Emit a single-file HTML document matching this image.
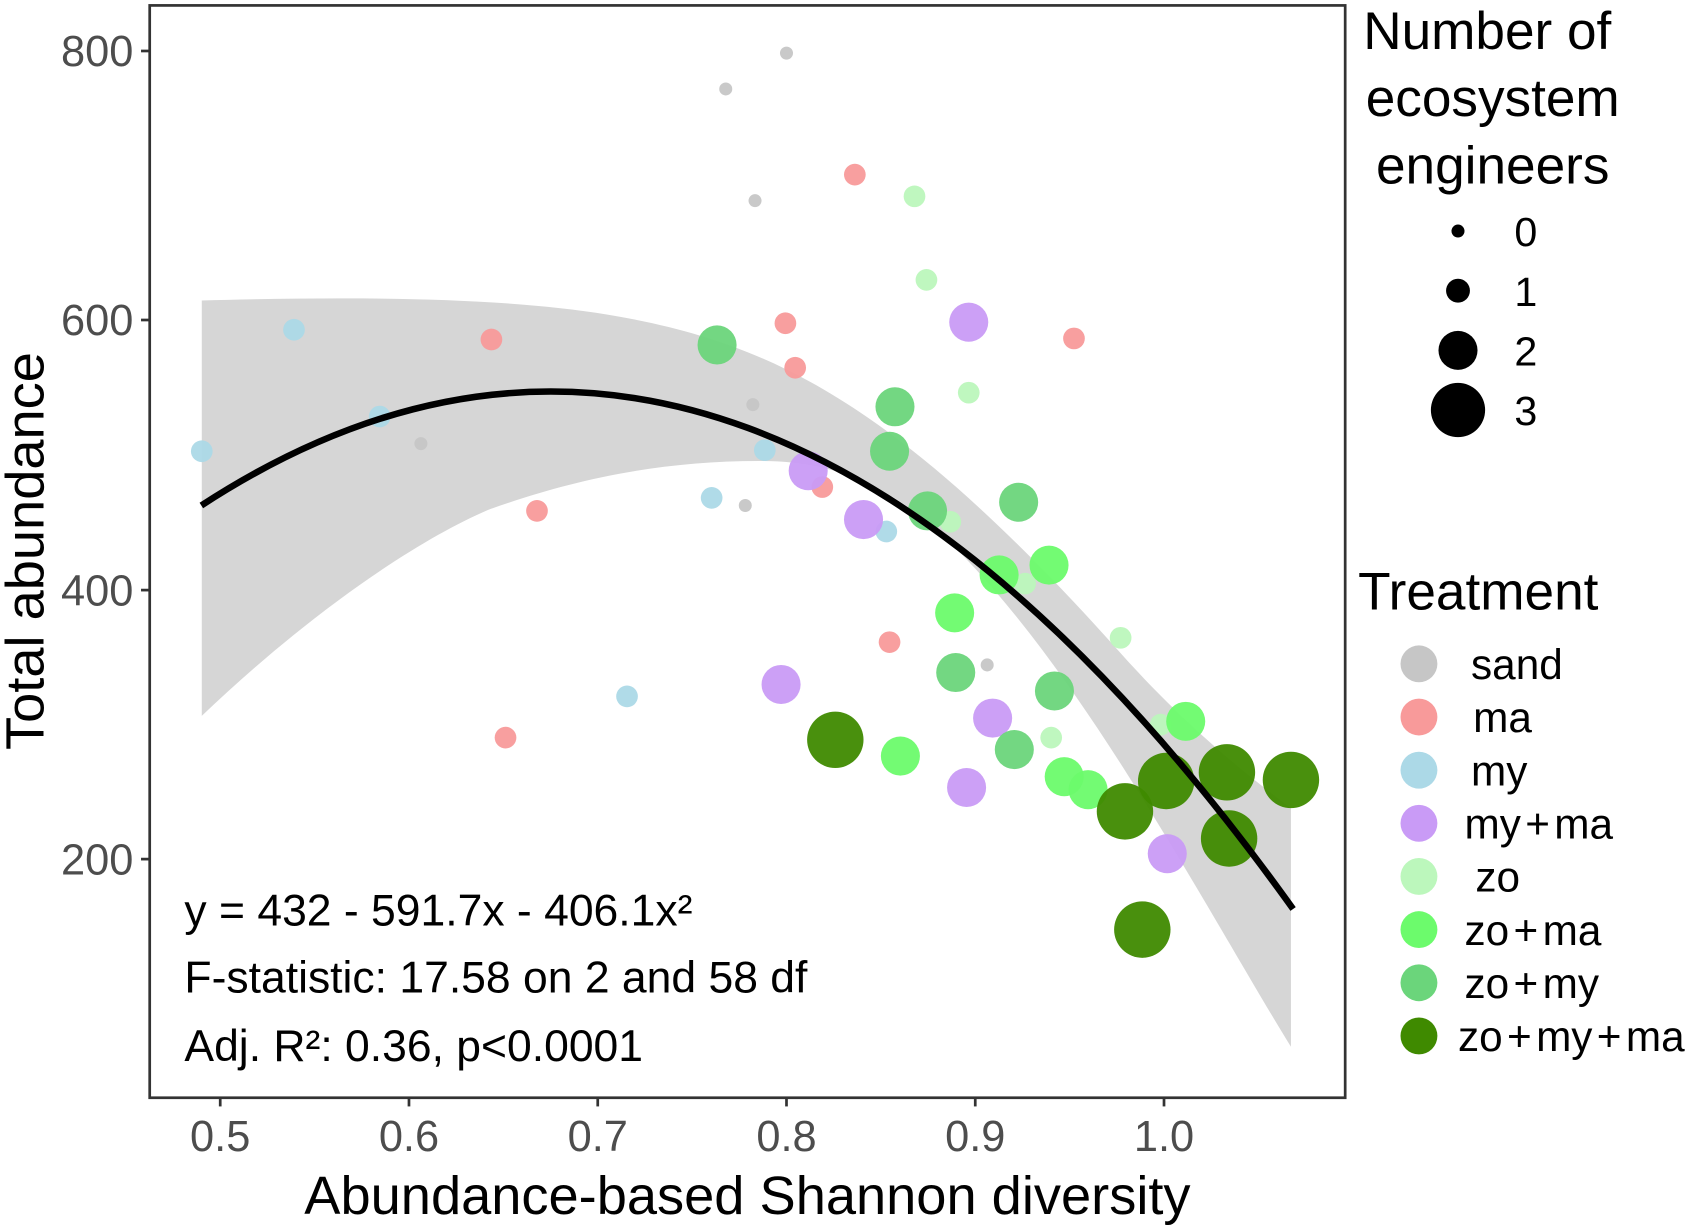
<!DOCTYPE html>
<html><head><meta charset="utf-8"><style>
html,body{margin:0;padding:0;background:#fff;}
svg{display:block;}
text{font-family:"Liberation Sans",Arial,sans-serif;}
</style></head><body>
<svg width="1701" height="1229" viewBox="0 0 1568 1133" preserveAspectRatio="none" xmlns="http://www.w3.org/2000/svg">
<rect x="0" y="0" width="1568" height="1133" fill="#fff"/>
<path d="M186,277 C300,274 450,272 560,290 C650,305 720,330 800,385 C880,440 960,520 1040,610 C1100,675 1150,715 1190,745 L1190,965 C1150,900 1100,810 1040,715 C980,620 920,540 860,485 C800,435 750,425 700,425 C600,425 520,445 450,470 C380,500 280,570 186,660 Z" fill="#d6d6d6"/>
<g fill-opacity="0.95">
<g fill="#c6c6c6">
<circle cx="725" cy="49" r="6"/><circle cx="669" cy="82" r="6"/><circle cx="696" cy="185" r="6"/><circle cx="694" cy="373" r="6"/><circle cx="388" cy="409" r="6"/><circle cx="687" cy="466" r="6"/><circle cx="910" cy="613" r="6"/>
</g>
<g fill="#f89a9a">
<circle cx="788" cy="161" r="10"/><circle cx="724" cy="298" r="10"/><circle cx="733" cy="339" r="10"/><circle cx="453" cy="313" r="10"/><circle cx="990" cy="312" r="10"/><circle cx="495" cy="471" r="10"/><circle cx="758" cy="449" r="10"/><circle cx="820" cy="592" r="10"/><circle cx="466" cy="680" r="10"/>
</g>
<g fill="#acd9e7">
<circle cx="271" cy="304" r="10"/><circle cx="186" cy="416" r="10"/><circle cx="350" cy="384" r="10"/><circle cx="705" cy="415" r="10"/><circle cx="656" cy="459" r="10"/><circle cx="578" cy="642" r="10"/><circle cx="817" cy="490" r="10"/>
</g>
<g fill="#bcf7bc">
<circle cx="843" cy="181" r="10"/><circle cx="854" cy="258" r="10"/><circle cx="893" cy="362" r="10"/><circle cx="876" cy="481" r="10"/><circle cx="945" cy="538" r="10"/><circle cx="1033" cy="588" r="10"/><circle cx="969" cy="680" r="10"/><circle cx="1070" cy="668" r="10"/>
</g>
<g fill="#c99bf6">
<circle cx="893" cy="297" r="18"/><circle cx="745" cy="434" r="18"/><circle cx="796" cy="479" r="18"/><circle cx="720" cy="631" r="18"/><circle cx="915" cy="662" r="18"/><circle cx="891" cy="726" r="18"/><circle cx="1076" cy="787" r="18"/>
</g>
<g fill="#6cfb6c">
<circle cx="921" cy="530" r="18"/><circle cx="967" cy="521" r="18"/><circle cx="880" cy="565" r="18"/><circle cx="830" cy="697" r="18"/><circle cx="981" cy="716" r="18"/><circle cx="1003" cy="728" r="18"/><circle cx="1093" cy="665" r="18"/>
</g>
<g fill="#6bd57b">
<circle cx="661" cy="318" r="18"/><circle cx="825" cy="375" r="18"/><circle cx="820" cy="416" r="18"/><circle cx="855" cy="471" r="18"/><circle cx="939" cy="463" r="18"/><circle cx="881" cy="620" r="18"/><circle cx="972" cy="637" r="18"/><circle cx="935" cy="691" r="18"/>
</g>
<g fill="#3f8a00">
<circle cx="770" cy="682" r="26"/><circle cx="1037" cy="748" r="26"/><circle cx="1075" cy="720" r="26"/><circle cx="1131" cy="712" r="26"/><circle cx="1190" cy="719" r="26"/><circle cx="1133" cy="773" r="26"/><circle cx="1053" cy="857" r="26"/>
</g>
</g>
<path d="M185.6 466 Q690.2 137.1 1192 838" fill="none" stroke="#000" stroke-width="6"/>
<rect x="138" y="5" width="1102" height="1007" fill="none" stroke="#333" stroke-width="2.5"/>
<g stroke="#333" stroke-width="2.5">
<line x1="130" y1="47" x2="138" y2="47"/><line x1="130" y1="295" x2="138" y2="295"/><line x1="130" y1="544" x2="138" y2="544"/><line x1="130" y1="792" x2="138" y2="792"/>
<line x1="203" y1="1012" x2="203" y2="1020"/><line x1="377" y1="1012" x2="377" y2="1020"/><line x1="551" y1="1012" x2="551" y2="1020"/><line x1="725" y1="1012" x2="725" y2="1020"/><line x1="899" y1="1012" x2="899" y2="1020"/><line x1="1073" y1="1012" x2="1073" y2="1020"/>
</g>
<g font-size="40" fill="#4d4d4d" text-anchor="end">
<text x="123" y="61">800</text><text x="123" y="309">600</text><text x="123" y="558">400</text><text x="123" y="806">200</text>
</g>
<g font-size="40" fill="#4d4d4d" text-anchor="middle">
<text x="203" y="1061">0.5</text><text x="377" y="1061">0.6</text><text x="551" y="1061">0.7</text><text x="725" y="1061">0.8</text><text x="899" y="1061">0.9</text><text x="1073" y="1061">1.0</text>
</g>
<text x="689" y="1119" font-size="50" text-anchor="middle" fill="#000">Abundance-based Shannon diversity</text>
<text transform="translate(40,508) rotate(-90)" font-size="50" text-anchor="middle" fill="#000">Total abundance</text>
<g font-size="41" fill="#000">
<text x="170" y="853">y = 432 - 591.7x - 406.1x²</text>
<text x="170" y="915">F-statistic: 17.58 on 2 and 58 df</text>
<text x="170" y="978">Adj. R²: 0.36, p&lt;0.0001</text>
</g>
<g font-size="49" fill="#000" text-anchor="middle">
<text x="1371" y="45">Number of</text><text x="1376" y="107">ecosystem</text><text x="1376" y="169">engineers</text>
</g>
<g fill="#000">
<circle cx="1344" cy="213" r="6"/><circle cx="1344" cy="268" r="11"/><circle cx="1344" cy="323" r="18"/><circle cx="1344" cy="378" r="25"/>
</g>
<g font-size="38" fill="#000">
<text x="1396" y="227">0</text><text x="1396" y="282">1</text><text x="1396" y="337">2</text><text x="1396" y="392">3</text>
</g>
<text x="1252" y="562" font-size="49" fill="#000">Treatment</text>
<g>
<circle cx="1308" cy="612" r="17" fill="#c6c6c6"/>
<circle cx="1308" cy="661" r="17" fill="#f89a9a"/>
<circle cx="1308" cy="710" r="17" fill="#acd9e7"/>
<circle cx="1308" cy="759" r="17" fill="#c99bf6"/>
<circle cx="1308" cy="808" r="17" fill="#bcf7bc"/>
<circle cx="1308" cy="857" r="17" fill="#6cfb6c"/>
<circle cx="1308" cy="906" r="17" fill="#6bd57b"/>
<circle cx="1308" cy="955" r="17" fill="#3f8a00"/>
</g>
<g font-size="39" fill="#000">
<text x="1356" y="626">sand</text>
<text x="1358" y="675">ma</text>
<text x="1356" y="724">my</text>
<text x="1350" y="773">my<tspan dx="4">+</tspan><tspan dx="4">ma</tspan></text>
<text x="1360" y="822">zo</text>
<text x="1350" y="871">zo<tspan dx="4">+</tspan><tspan dx="4">ma</tspan></text>
<text x="1350" y="920">zo<tspan dx="4">+</tspan><tspan dx="4">my</tspan></text>
<text x="1344" y="969">zo<tspan dx="4">+</tspan><tspan dx="4">my</tspan><tspan dx="4">+</tspan><tspan dx="4">ma</tspan></text>
</g>
</svg>
</body></html>
